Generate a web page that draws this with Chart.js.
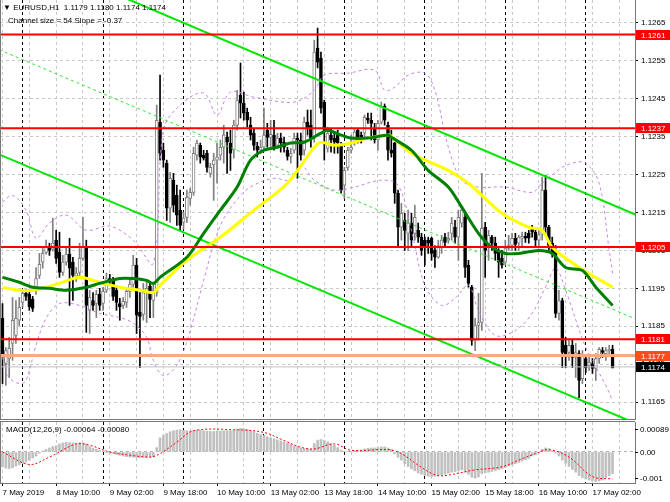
<!DOCTYPE html>
<html>
<head>
<meta charset="utf-8">
<script src="https://cdn.jsdelivr.net/npm/chart.js@4.4.1/dist/chart.umd.min.js"></script>
<style>
  html, body { margin: 0; padding: 0; background: #fff; }
  #wrap { position: relative; width: 670px; height: 502px; overflow: hidden; font-family: "Liberation Sans", Arial, sans-serif; }
  canvas { position: absolute; left: 0; }
  .note { position: absolute; font-size: 8px; line-height: 10px; color: #000; white-space: pre; }
</style>
</head>
<body>
<div id="wrap">
  <canvas id="priceChart" width="670" height="420" style="top:0"></canvas>
  <canvas id="macdChart" width="670" height="82" style="top:420px"></canvas>
  <div class="note" style="left:3px;top:3px">▼ EURUSD,H1  1.1179 1.1180 1.1174 1.1174</div>
  <div class="note" style="left:8px;top:16px">Channel size = 54 Slope = -0.37</div>
  <div class="note" style="left:6px;top:425px">MACD(12,26,9) -0.00064 -0.00080</div>
</div>
<script>
// EURUSD H1 candles, bar 0 = 7 May 18:00
const opens = [
  1.11871,1.11752,1.11765,1.11805,1.11826,1.11866,1.11913,1.11937,1.11934,1.11921,
  1.11945,1.11984,1.12019,1.12045,1.12058,1.12053,1.12077,1.12045,1.11992,1.12019,
  1.12040,1.12019,1.11982,1.11992,1.12029,1.12058,1.11892,1.11918,1.11910,1.11934,
  1.11910,1.11945,1.11976,1.11971,1.11945,1.11910,1.11905,1.11913,1.11942,1.11961,
  1.12011,1.11887,1.11881,1.11939,1.11955,1.11918,1.11939,1.12388,1.12314,1.12280,
  1.12161,1.12235,1.12195,1.12156,1.12124,1.12137,1.12187,1.12203,1.12301,1.12327,
  1.12301,1.12306,1.12253,1.12275,1.12288,1.12301,1.12322,1.12348,1.12333,1.12314,
  1.12380,1.12459,1.12438,1.12414,1.12380,1.12359,1.12325,1.12314,1.12322,1.12367,
  1.12348,1.12354,1.12327,1.12346,1.12335,1.12314,1.12298,1.12314,1.12346,1.12341,
  1.12314,1.12388,1.12380,1.12346,1.12583,1.12557,1.12441,1.12319,1.12354,1.12346,
  1.12354,1.12327,1.12222,1.12269,1.12314,1.12333,1.12367,1.12354,1.12359,1.12399,
  1.12393,1.12372,1.12341,1.12388,1.12430,1.12380,1.12314,1.12333,1.12201,1.12111,
  1.12129,1.12095,1.12122,1.12095,1.12103,1.12085,1.12077,1.12077,1.12082,1.12050,
  1.12032,1.12058,1.12085,1.12077,1.12095,1.12111,1.12085,1.12122,1.12137,1.12011,
  1.11953,1.11813,1.11852,1.11860,1.12111,1.12058,1.12085,1.12069,1.12045,1.12029,
  1.12019,1.12055,1.12063,1.12082,1.12069,1.12082,1.12087,1.12095,1.12111,1.12098,
  1.12077,1.12092,1.12209,1.12111,1.12069,1.12050,1.11884,1.11918,1.11800,1.11781,
  1.11800,1.11768,1.11778,1.11712,1.11765,1.11747,1.11752,1.11739,1.11765,1.11786,
  1.11778,1.11786,1.11790
];
const highs = [
  1.11910,1.11794,1.11821,1.11926,1.11918,1.11926,1.11945,1.11947,1.11945,1.11929,
  1.12005,1.12042,1.12055,1.12077,1.12069,1.12135,1.12103,1.12098,1.12037,1.12058,
  1.12082,1.12032,1.12005,1.12069,1.12137,1.12077,1.11945,1.11939,1.11945,1.11950,
  1.11953,1.11990,1.11987,1.11979,1.11958,1.11924,1.11926,1.11950,1.11979,1.12037,
  1.12029,1.11939,1.11963,1.11971,1.11966,1.11958,1.12433,1.12512,1.12333,1.12288,
  1.12256,1.12253,1.12222,1.12209,1.12151,1.12209,1.12214,1.12322,1.12341,1.12333,
  1.12314,1.12314,1.12280,1.12306,1.12333,1.12341,1.12380,1.12362,1.12367,1.12393,
  1.12472,1.12544,1.12467,1.12425,1.12401,1.12372,1.12335,1.12341,1.12425,1.12385,
  1.12393,1.12393,1.12359,1.12359,1.12348,1.12322,1.12319,1.12359,1.12359,1.12359,
  1.12401,1.12420,1.12420,1.12604,1.12636,1.12573,1.12446,1.12375,1.12372,1.12359,
  1.12367,1.12335,1.12269,1.12322,1.12354,1.12372,1.12372,1.12362,1.12407,1.12412,
  1.12412,1.12385,1.12393,1.12441,1.12436,1.12388,1.12367,1.12335,1.12209,1.12174,
  1.12148,1.12156,1.12148,1.12169,1.12122,1.12095,1.12085,1.12085,1.12085,1.12063,
  1.12077,1.12090,1.12095,1.12098,1.12137,1.12129,1.12156,1.12164,1.12148,1.12024,
  1.11958,1.11871,1.11937,1.12253,1.12124,1.12103,1.12090,1.12085,1.12055,1.12050,
  1.12077,1.12090,1.12095,1.12095,1.12090,1.12098,1.12098,1.12103,1.12116,1.12103,
  1.12103,1.12243,1.12248,1.12116,1.12085,1.12063,1.11945,1.11924,1.11821,1.11813,
  1.11813,1.11805,1.11786,1.11786,1.11773,1.11768,1.11765,1.11778,1.11794,1.11794,
  1.11794,1.11800,1.11800
];
const lows = [
  1.11699,1.11694,1.11715,1.11760,1.11805,1.11852,1.11900,1.11918,1.11892,1.11889,
  1.11934,1.11976,1.12003,1.12040,1.12037,1.12048,1.12016,1.11979,1.11984,1.12011,
  1.11905,1.11918,1.11968,1.11979,1.12024,1.11834,1.11831,1.11892,1.11873,1.11892,
  1.11892,1.11939,1.11961,1.11918,1.11892,1.11866,1.11897,1.11900,1.11926,1.11953,
  1.11831,1.11741,1.11866,1.11860,1.11873,1.11873,1.11929,1.12288,1.12269,1.12129,
  1.12124,1.12151,1.12116,1.12103,1.12106,1.12124,1.12169,1.12195,1.12288,1.12280,
  1.12288,1.12256,1.12243,1.12182,1.12227,1.12288,1.12280,1.12253,1.12261,1.12293,
  1.12367,1.12399,1.12393,1.12375,1.12341,1.12314,1.12296,1.12306,1.12314,1.12322,
  1.12322,1.12314,1.12322,1.12309,1.12309,1.12288,1.12280,1.12306,1.12240,1.12288,
  1.12301,1.12354,1.12322,1.12335,1.12531,1.12412,1.12288,1.12309,1.12309,1.12306,
  1.12306,1.12201,1.12187,1.12261,1.12306,1.12327,1.12333,1.12333,1.12346,1.12385,
  1.12341,1.12333,1.12314,1.12383,1.12380,1.12288,1.12296,1.12174,1.12058,1.12077,
  1.12050,1.12050,1.12058,1.12077,1.12071,1.12037,1.12011,1.12042,1.12024,1.12005,
  1.12029,1.12042,1.12058,1.12069,1.12077,1.12069,1.12024,1.12111,1.11979,1.11953,
  1.11800,1.11786,1.11813,1.11839,1.11979,1.12024,1.12050,1.12024,1.11979,1.12003,
  1.12011,1.12050,1.12050,1.12050,1.12050,1.12058,1.12071,1.12069,1.12085,1.12058,
  1.12058,1.12077,1.12095,1.12050,1.12032,1.11873,1.11866,1.11741,1.11741,1.11760,
  1.11741,1.11715,1.11662,1.11699,1.11728,1.11734,1.11726,1.11707,1.11752,1.11768,
  1.11760,1.11773,1.11740
];
const closes = [
  1.11773,1.11786,1.11792,1.11866,1.11871,1.11900,1.11937,1.11929,1.11902,1.11897,
  1.11976,1.12013,1.12042,1.12058,1.12050,1.12069,1.12029,1.11992,1.12019,1.12040,
  1.12003,1.11984,1.11990,1.12029,1.12058,1.11905,1.11926,1.11905,1.11934,1.11905,
  1.11942,1.11976,1.11971,1.11929,1.11913,1.11902,1.11916,1.11942,1.11961,1.12011,
  1.11879,1.11876,1.11939,1.11950,1.11921,1.11945,1.12393,1.12306,1.12288,1.12161,
  1.12240,1.12169,1.12143,1.12116,1.12135,1.12190,1.12203,1.12306,1.12333,1.12296,
  1.12293,1.12269,1.12269,1.12288,1.12296,1.12322,1.12354,1.12335,1.12306,1.12380,
  1.12446,1.12438,1.12412,1.12393,1.12354,1.12327,1.12314,1.12322,1.12354,1.12348,
  1.12356,1.12322,1.12346,1.12333,1.12322,1.12298,1.12306,1.12346,1.12341,1.12301,
  1.12388,1.12372,1.12346,1.12573,1.12546,1.12425,1.12367,1.12359,1.12341,1.12335,
  1.12333,1.12209,1.12261,1.12314,1.12322,1.12362,1.12341,1.12341,1.12401,1.12393,
  1.12385,1.12341,1.12385,1.12430,1.12393,1.12314,1.12306,1.12201,1.12111,1.12148,
  1.12103,1.12122,1.12077,1.12137,1.12085,1.12050,1.12058,1.12069,1.12042,1.12032,
  1.12063,1.12077,1.12071,1.12082,1.12122,1.12085,1.12137,1.12156,1.12005,1.11963,
  1.11813,1.11852,1.11860,1.12108,1.12050,1.12090,1.12069,1.12042,1.12019,1.12011,
  1.12055,1.12063,1.12082,1.12066,1.12085,1.12087,1.12082,1.12082,1.12098,1.12077,
  1.12092,1.12209,1.12111,1.12063,1.12042,1.11884,1.11918,1.11781,1.11778,1.11800,
  1.11768,1.11781,1.11707,1.11773,1.11741,1.11755,1.11739,1.11765,1.11789,1.11781,
  1.11786,1.11789,1.11740
];

// moving averages and bollinger bands, read at sample bars
const greenMaBars = [0,5,9,14,19,25,29,35,39,43,45,47,55,60,65,70,74,78,82,86,90,95,97,101,104,109,115,116,122,127,133,137,142,146,150,154,160,164,168,173,177,182];
const greenMaValues = [1.11979,1.11966,1.11953,1.11950,1.11945,1.11953,1.11963,1.11976,1.11976,1.11971,1.11963,1.11979,1.12032,1.12095,1.12156,1.12217,1.12288,1.12314,1.12322,1.12333,1.12335,1.12359,1.12367,1.12354,1.12346,1.12346,1.12354,1.12348,1.12314,1.12261,1.12217,1.12164,1.12095,1.12058,1.12042,1.12042,1.12050,1.12042,1.12005,1.11997,1.11953,1.11905];
const yellowMaBars = [0,5,9,17,23,29,35,41,45,47,55,65,75,85,93,95,99,104,109,115,116,122,133,139,149,157,161,164,172,182];
const yellowMaValues = [1.11953,1.11945,1.11945,1.11963,1.11979,1.11966,1.11953,1.11945,1.11939,1.11958,1.12024,1.12085,1.12156,1.12227,1.12322,1.12335,1.12327,1.12333,1.12346,1.12354,1.12351,1.12306,1.12261,1.12227,1.12148,1.12111,1.12103,1.12058,1.12005,1.11953];
const bandUpperBars = [0,3,7,10,14,19,25,32,39,45,48,53,60,64,68,75,87,93,96,103,111,114,117,121,126,129,133,137,142,150,158,161,167,171,174,178,181,182];
const bandUpperValues = [1.12177,1.12195,1.12156,1.12082,1.12122,1.12143,1.12103,1.12114,1.12077,1.12016,1.12367,1.12433,1.12465,1.12407,1.12467,1.12454,1.12441,1.12472,1.12512,1.12517,1.12525,1.12472,1.12480,1.12512,1.12517,1.12472,1.12322,1.12235,1.12217,1.12217,1.12203,1.12227,1.12269,1.12282,1.12280,1.12227,1.12050,1.11990];
const bandLowerBars = [0,2,5,7,10,13,17,23,29,35,39,43,45,48,52,56,60,65,71,75,81,86,89,93,99,105,113,118,122,126,131,135,139,142,147,153,158,162,165,168,174,180,182];
const bandLowerValues = [1.11768,1.11715,1.11699,1.11707,1.11800,1.11871,1.11910,1.11905,1.11884,1.11873,1.11858,1.11821,1.11760,1.11720,1.11747,1.11839,1.11971,1.12116,1.12195,1.12222,1.12240,1.12235,1.12275,1.12235,1.12209,1.12217,1.12235,1.12222,1.12103,1.11958,1.11905,1.11924,1.11958,1.11892,1.11826,1.11839,1.11884,1.11953,1.12003,1.11945,1.11794,1.11694,1.11654];

// regression channel ends (bar -1 and bar 190)
const channelBars = [-1, 190];
const channelUpper = [1.12856, 1.12140];
const channelMiddle = [1.12579, 1.11865];
const channelLower = [1.12303, 1.11590];

// horizontal levels
const levelPrices = [1.12619, 1.12372, 1.12059, 1.11816];
const levelTags = ['1.1261', '1.1237', '1.1205', '1.1181'];
const pivotPrice = 1.11773, pivotTag = '1.1177';
const bidPrice = 1.11743, bidTag = '1.1174';

// MACD(12,26,9)
const macdHist = [
  -0.00044,-0.00048,-0.00049,-0.00047,-0.00042,-0.00038,-0.00034,-0.00030,-0.00024,-0.00018,
  -0.00012,-0.00004,0.00003,0.00008,0.00012,0.00016,0.00019,0.00024,0.00027,0.00029,
  0.00028,0.00027,0.00026,0.00027,0.00026,0.00024,0.00016,0.00011,0.00008,0.00004,
  0.00001,-0.00002,-0.00003,-0.00004,-0.00007,-0.00010,-0.00012,-0.00014,-0.00015,-0.00015,
  -0.00016,-0.00017,-0.00016,-0.00016,-0.00015,-0.00014,0.00013,0.00042,0.00050,0.00055,
  0.00060,0.00063,0.00065,0.00066,0.00064,0.00063,0.00062,0.00064,0.00065,0.00064,
  0.00063,0.00062,0.00061,0.00061,0.00062,0.00062,0.00063,0.00063,0.00063,0.00065,
  0.00068,0.00070,0.00069,0.00067,0.00063,0.00060,0.00056,0.00052,0.00049,0.00045,
  0.00042,0.00039,0.00036,0.00033,0.00030,0.00026,0.00023,0.00018,0.00015,0.00012,
  0.00010,0.00010,0.00009,0.00025,0.00035,0.00037,0.00034,0.00030,0.00025,0.00020,
  0.00013,0.00006,0.00001,0.00001,0.00002,0.00004,0.00005,0.00006,0.00009,0.00011,
  0.00012,0.00012,0.00013,0.00015,0.00015,0.00012,0.00008,-0.00005,-0.00016,-0.00024,
  -0.00035,-0.00043,-0.00050,-0.00056,-0.00062,-0.00066,-0.00070,-0.00072,-0.00073,-0.00072,
  -0.00070,-0.00068,-0.00066,-0.00063,-0.00060,-0.00058,-0.00055,-0.00053,-0.00060,-0.00066,
  -0.00075,-0.00078,-0.00074,-0.00064,-0.00062,-0.00060,-0.00058,-0.00055,-0.00052,-0.00050,
  -0.00046,-0.00042,-0.00039,-0.00035,-0.00031,-0.00027,-0.00023,-0.00019,-0.00012,-0.00007,
  -0.00002,0.00008,0.00012,0.00010,0.00004,-0.00003,-0.00012,-0.00024,-0.00034,-0.00043,
  -0.00052,-0.00060,-0.00070,-0.00076,-0.00080,-0.00083,-0.00086,-0.00088,-0.00086,-0.00083,
  -0.00076,-0.00070,-0.00064
];
const signalBars = [0,8,14,22,26,32,37,44,47,52,57,69,78,84,89,93,99,104,115,119,124,129,132,141,149,155,159,163,169,176,182];
const signalValues = [0.00000,-0.00037,-0.00015,0.00024,0.00020,0.00000,-0.00008,-0.00015,-0.00005,0.00029,0.00063,0.00066,0.00058,0.00034,0.00014,0.00009,0.00024,0.00005,0.00007,-0.00005,-0.00039,-0.00068,-0.00070,-0.00053,-0.00044,-0.00020,-0.00005,0.00007,-0.00015,-0.00073,-0.00080];
const macdAxisLabels = ['0.00089', '0.00', '-0.001'];

// axis ticks
const priceTicks = [1.1165,1.1175,1.1185,1.1195,1.1205,1.1215,1.1225,1.1235,1.1245,1.1255,1.1265];
const gridBars = [0,8,16,24,32,40,48,56,64,72,80,88,96,104,112,120,128,136,144,152,160,168,176,184];
const dayStarts = [6,30,54,78,102,126,150,174];
const labelBars = [0,16,32,48,64,80,96,112,128,144,160,176];
const timeLabels = ['7 May 2019','8 May 10:00','9 May 02:00','9 May 18:00','10 May 10:00','13 May 02:00','13 May 18:00','14 May 10:00','15 May 02:00','15 May 18:00','16 May 10:00','17 May 02:00'];

const FONT = '"Liberation Sans", Arial, sans-serif';
Chart.defaults.font.family = FONT;
Chart.defaults.font.size = 8;
Chart.defaults.color = '#000';

const X_MIN = -0.746, X_MAX = 188.69;
const xTicks = gridBars.concat(dayStarts).sort((a, b) => a - b);
const bars = opens.map((_, i) => i);
const isBull = bars.map(i => closes[i] >= opens[i]);
const pts = (xs, ys) => xs.map((x, k) => ({ x: x, y: ys[k] }));

function lineSet(data, color, width, extra) {
  return Object.assign({ type: 'line', data: data, borderColor: color, borderWidth: width,
    pointRadius: 0, fill: false, tension: 0 }, extra || {});
}

const vGridColor = ctx => (ctx.tick && dayStarts.includes(ctx.tick.value)) ? '#000' : '#c8c8c8';

const sharedX = {
  type: 'linear', min: X_MIN, max: X_MAX, offset: false,
  afterBuildTicks: s => { s.ticks = xTicks.map(v => ({ value: v })); },
  grid: { color: vGridColor, offset: false, drawTicks: false }
};

// price panel
const priceTagsPlugin = {
  id: 'priceTags',
  afterDraw(chart) {
    const { ctx, chartArea: a, scales: { y } } = chart;
    ctx.save();
    ctx.strokeStyle = '#777';
    ctx.lineWidth = 1;
    ctx.beginPath();
    ctx.moveTo(0.5, 0); ctx.lineTo(0.5, a.bottom);
    ctx.moveTo(0, a.bottom - 0.5); ctx.lineTo(a.right, a.bottom - 0.5);
    ctx.stroke();
    const tags = levelPrices.map((p, k) => [p, levelTags[k], '#ff0000'])
      .concat([[pivotPrice, pivotTag, '#ff4d1a'], [bidPrice, bidTag, '#000000']]);
    ctx.font = '8px ' + FONT;
    ctx.textBaseline = 'middle';
    tags.forEach(([p, t, bg]) => {
      const py = Math.round(y.getPixelForValue(p));
      ctx.fillStyle = bg;
      ctx.fillRect(a.right + 1, py - 5, chart.width - a.right - 1, 10);
      ctx.fillStyle = '#fff';
      ctx.fillText(t, a.right + 6, py + 0.5);
    });
    ctx.restore();
  }
};

new Chart(document.getElementById('priceChart'), {
  type: 'bar',
  data: {
    datasets: [
      ...levelPrices.map(p => lineSet(pts(channelBars, [p, p]), '#ff0000', 2, { order: 1 })),
      lineSet(pts(channelBars, [pivotPrice, pivotPrice]), '#f8a888', 3, { order: 2 }),
      lineSet(pts(channelBars, [bidPrice, bidPrice]), '#c0c0c0', 1, { order: 2 }),
      lineSet(pts(greenMaBars, greenMaValues), '#008000', 3, { order: 3, tension: 0.3 }),
      lineSet(pts(yellowMaBars, yellowMaValues), '#ffff00', 3, { order: 4, tension: 0.3 }),
      lineSet(pts(channelBars, channelUpper), '#00e600', 2, { order: 5 }),
      lineSet(pts(channelBars, channelLower), '#00e600', 2, { order: 5 }),
      lineSet(pts(channelBars, channelMiddle), '#33e633', 1, { order: 5, borderDash: [3, 3] }),
      lineSet(pts(bandUpperBars, bandUpperValues), '#c683e6', 1, { order: 6, borderDash: [3, 3], tension: 0.35 }),
      lineSet(pts(bandLowerBars, bandLowerValues), '#c683e6', 1, { order: 6, borderDash: [3, 3], tension: 0.35 }),
      {
        type: 'bar', order: 21, grouped: false, barThickness: 1,
        data: bars.map(i => ({ x: i, y: [lows[i], highs[i]] })),
        backgroundColor: bars.map(i => isBull[i] ? '#808080' : '#000000')
      },
      {
        type: 'bar', order: 20, grouped: false, barThickness: 3, minBarLength: 1,
        borderWidth: 1, borderSkipped: false,
        data: bars.map(i => ({ x: i, y: [opens[i], closes[i]] })),
        backgroundColor: bars.map(i => isBull[i] ? '#ffffff' : '#000000'),
        borderColor: bars.map(i => isBull[i] ? '#808080' : '#000000')
      }
    ]
  },
  options: {
    responsive: false, animation: false, events: [],
    layout: { padding: 0 },
    plugins: { legend: { display: false }, tooltip: { enabled: false } },
    scales: {
      x: Object.assign({}, sharedX, {
        ticks: { display: false },
        border: { display: false, dash: [3, 3] },
        afterFit: s => { s.height = 0; s.paddingLeft = 0; s.paddingRight = 0; }
      }),
      y: {
        position: 'right', min: 1.11603, max: 1.12710,
        afterBuildTicks: s => { s.ticks = priceTicks.map(v => ({ value: v })); },
        ticks: { callback: v => v.toFixed(4), padding: 3, font: { size: 8 } },
        grid: { color: '#c8c8c8', tickColor: '#000', tickLength: 3 },
        border: { display: true, color: '#777', width: 1, dash: [3, 3] },
        afterFit: s => { s.width = 35; s.paddingTop = 0; s.paddingBottom = 0; }
      }
    }
  },
  plugins: [priceTagsPlugin]
});

// MACD panel
const macdAxisPlugin = {
  id: 'macdAxis',
  afterDraw(chart) {
    const { ctx, chartArea: a, scales: { y } } = chart;
    ctx.save();
    ctx.strokeStyle = '#777';
    ctx.lineWidth = 1;
    ctx.beginPath();
    ctx.moveTo(0, a.top - 0.5); ctx.lineTo(a.right, a.top - 0.5);
    ctx.moveTo(0.5, a.top); ctx.lineTo(0.5, a.bottom);
    ctx.stroke();
    const ys = [a.top + 7, Math.round(y.getPixelForValue(0)), a.bottom - 5];
    ctx.font = '8px ' + FONT;
    ctx.fillStyle = '#000';
    ctx.textBaseline = 'middle';
    ctx.strokeStyle = '#000';
    macdAxisLabels.forEach((t, k) => {
      ctx.beginPath();
      ctx.moveTo(a.right, ys[k] + 0.5); ctx.lineTo(a.right + 3, ys[k] + 0.5);
      ctx.stroke();
      ctx.fillText(t, a.right + 5, ys[k] + 0.5);
    });
    ctx.restore();
  }
};

new Chart(document.getElementById('macdChart'), {
  type: 'bar',
  data: {
    datasets: [
      lineSet(pts(signalBars, signalValues), '#ff0000', 1, { order: 1, borderDash: [2, 2], tension: 0.35 }),
      {
        type: 'bar', order: 5, grouped: false, barThickness: 2,
        data: bars.map(i => ({ x: i, y: macdHist[i] })),
        backgroundColor: '#c0c0c0'
      }
    ]
  },
  options: {
    responsive: false, animation: false, events: [],
    layout: { padding: { top: 2, left: 0, right: 0, bottom: 0 } },
    plugins: { legend: { display: false }, tooltip: { enabled: false } },
    scales: {
      x: Object.assign({}, sharedX, {
        grid: {
          color: vGridColor, offset: false, drawTicks: true, tickLength: 3,
          tickColor: ctx => (ctx.tick && labelBars.includes(ctx.tick.value)) ? '#000' : 'rgba(0,0,0,0)'
        },
        ticks: {
          autoSkip: false, maxRotation: 0, minRotation: 0, align: 'start', padding: 2,
          font: { size: 8 },
          callback: v => { const k = labelBars.indexOf(v); return k >= 0 ? timeLabels[k] : ''; }
        },
        border: { display: true, color: '#777', width: 1, dash: [3, 3] },
        afterFit: s => { s.height = 19; s.paddingLeft = 0; s.paddingRight = 0; }
      }),
      y: {
        position: 'right', min: -0.00092, max: 0.00089,
        afterBuildTicks: s => { s.ticks = [{ value: 0 }]; },
        ticks: { display: false },
        grid: { color: '#b0b0b0', drawTicks: false },
        border: { display: true, color: '#777', width: 1, dash: [3, 3] },
        afterFit: s => { s.width = 35; s.paddingTop = 0; s.paddingBottom = 0; }
      }
    }
  },
  plugins: [macdAxisPlugin]
});
</script>
</body>
</html>
